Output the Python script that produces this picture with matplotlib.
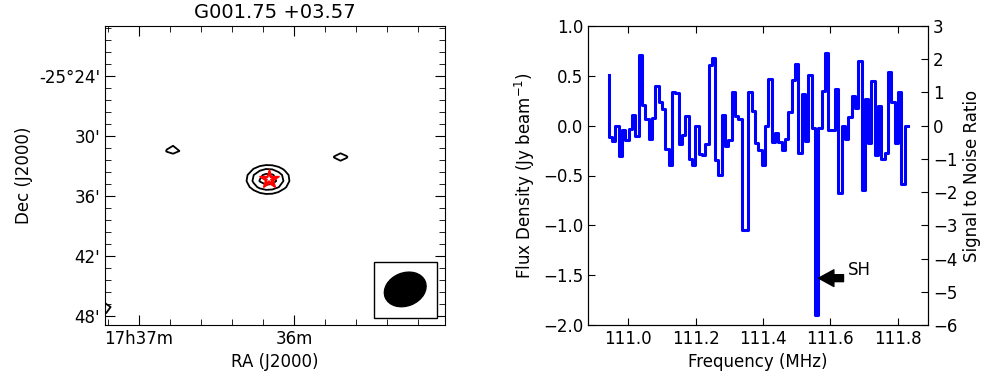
import numpy as np
import matplotlib
matplotlib.use("Agg")
import matplotlib.pyplot as plt
from matplotlib.patches import Ellipse, Rectangle
from matplotlib.transforms import ScaledTranslation

# ---------------- Spectrum data ----------------
freq_start = 110.9416   # MHz, first channel
chan_width = 0.00988    # MHz
flux = [0.51, -0.11, -0.15, 0.00, -0.30, -0.04, -0.14, -0.03, 0.11, -0.10,
        0.71, 0.21, 0.07, -0.13, 0.08, 0.40, 0.24, 0.17, -0.23, -0.39,
        0.34, 0.33, -0.18, -0.09, 0.10, -0.33, -0.39, 0.00, -0.28, -0.29,
        -0.18, 0.61, 0.68, -0.34, -0.49, 0.11, -0.20, -0.14, 0.34, 0.10,
        0.07, -1.05, -1.05, 0.34, 0.15, -0.17, -0.24, -0.39, 0.00, 0.47,
        -0.16, -0.07, -0.16, -0.24, -0.13, 0.14, 0.46, 0.62, -0.27, 0.32,
        -0.15, 0.51, -0.02, -1.90, -0.02, 0.35, 0.73, -0.04, -0.04, 0.37,
        -0.68, 0.00, -0.13, 0.09, 0.30, 0.18, 0.65, -0.65, 0.27, -0.17,
        0.45, -0.29, 0.20, -0.33, -0.27, 0.54, 0.24, -0.17, 0.34, -0.59, 0.00]
freq = freq_start + chan_width * np.arange(len(flux))
rms = 1.0 / 3.0
spec_xlim = (110.88, 111.89)
spec_ylim = (-2.0, 1.0)
spec_xticks = [111.0, 111.2, 111.4, 111.6, 111.8]
spec_yticks = [-2.0, -1.5, -1.0, -0.5, 0.0, 0.5, 1.0]
snr_ticks = [-6, -5, -4, -3, -2, -1, 0, 1, 2, 3]
sh_tip = (111.565, -1.53)
sh_tail = (111.639, -1.53)
sh_text = (111.651, -1.45)

# ---------------- Image (contour) data ----------------
title = "G001.75 +03.57"
ra_lim = (37.219, 35.026)        # minutes past 17h (RA increases leftwards)
dec_lim = (-48.9, -19.0)         # arcmin below -25 deg
src_ra = [36.168, 36.783, 35.699, 37.239]
src_dec = [-34.35, -31.40, -32.10, -47.20]
src_peak = [5.57, 3.20, 3.20, 3.34]
sig_ra, sig_dec = 0.1245, 1.3
levels = [3, 4, 5]
star_pos = (36.159, -34.30)
ra_ticks = [37.0, 36.0]
ra_ticklabels = ["17h37m", "36m"]
dec_ticks = [-24, -30, -36, -42, -48]
dec_ticklabels = ["-25\u00b024'", "30'", "36'", "42'", "48'"]

fig = plt.figure(figsize=(9.95, 3.81), dpi=100)
plt.rcParams['font.family'] = ['DejaVu Sans']

# ---------------- Left panel ----------------
ax1 = fig.add_axes([105/995, 56/381, 340/995, 299/381])
ra_g = np.arange(34.9, 37.4, 0.04)
dec_g = np.arange(-49.5, -18.5, 0.6)
RA, DEC = np.meshgrid(ra_g, dec_g)
field = np.zeros_like(RA)
for r, d, p in zip(src_ra, src_dec, src_peak):
    field += p * np.exp(-0.5 * (((RA - r) / sig_ra) ** 2 + ((DEC - d) / sig_dec) ** 2))
ax1.contour(RA, DEC, field, levels=levels, colors='k', linewidths=1.3)
ax1.plot(*star_pos, marker='*', color='red', markersize=15, markeredgecolor='red', zorder=5)
ax1.plot(*star_pos, marker='*', color='white', markersize=5, markeredgewidth=0, zorder=6)
ax1.set_xlim(ra_lim)
ax1.set_ylim(dec_lim)
ax1.set_xticks(ra_ticks)
ax1.set_xticklabels(ra_ticklabels)
ax1.set_xticks(np.arange(35.2, 37.21, 0.2), minor=True)
ax1.set_yticks(dec_ticks)
ax1.set_yticklabels(dec_ticklabels)
ax1.set_yticks(np.arange(-48.0, -19.0, 1.2), minor=True)
ax1.tick_params(which='both', direction='in', top=True, right=True, labelsize=12)
ax1.tick_params(which='major', length=7)
ax1.tick_params(which='minor', length=4)
ax1.set_xlabel("RA (J2000)", fontsize=12)
ax1.set_ylabel("Dec (J2000)", fontsize=12)
ax1.set_title(title, fontsize=14)
# beam box
ax1.add_patch(Rectangle((0.792, 0.024), 0.185, 0.186, transform=ax1.transAxes,
                        facecolor='white', edgecolor='black', lw=1.0, zorder=7))
trans = fig.dpi_scale_trans + ScaledTranslation(0.883, 0.119, ax1.transAxes)
ax1.add_patch(Ellipse((0, 0), 0.43, 0.33, angle=22, transform=trans,
                      facecolor='black', edgecolor='black', zorder=8))

# ---------------- Right panel ----------------
ax2 = fig.add_axes([588/995, 56/381, 340/995, 299/381])
ax2.plot(freq, flux, drawstyle='steps', color='blue', lw=2.2)
ax2.set_xlim(spec_xlim)
ax2.set_ylim(spec_ylim)
ax2.set_xticks(spec_xticks)
ax2.set_xticklabels([f"{v:.1f}" for v in spec_xticks])
ax2.set_yticks(spec_yticks)
ax2.set_yticklabels([f"{v:.1f}".replace('-', '\u2212') for v in spec_yticks])
ax2.tick_params(direction='in', top=True, labelsize=12, length=5)
ax2.set_xlabel("Frequency (MHz)", fontsize=12)
ax2.set_ylabel("Flux Density (Jy beam$^{-1}$)", fontsize=12)
ax2.annotate('', xy=sh_tip, xytext=sh_tail,
             arrowprops=dict(facecolor='black', edgecolor='black', width=5,
                             headwidth=12, headlength=11, shrink=0.0))
ax2.text(sh_text[0], sh_text[1], 'SH', fontsize=12, va='center', ha='left')

ax3 = ax2.twinx()
ax3.set_ylim(spec_ylim[0] / rms, spec_ylim[1] / rms)
ax3.set_yticks(snr_ticks)
ax3.tick_params(direction='in', labelsize=12, length=5)
ax3.set_ylabel("Signal to Noise Ratio", fontsize=12)

fig.savefig("out.png", dpi=100)
